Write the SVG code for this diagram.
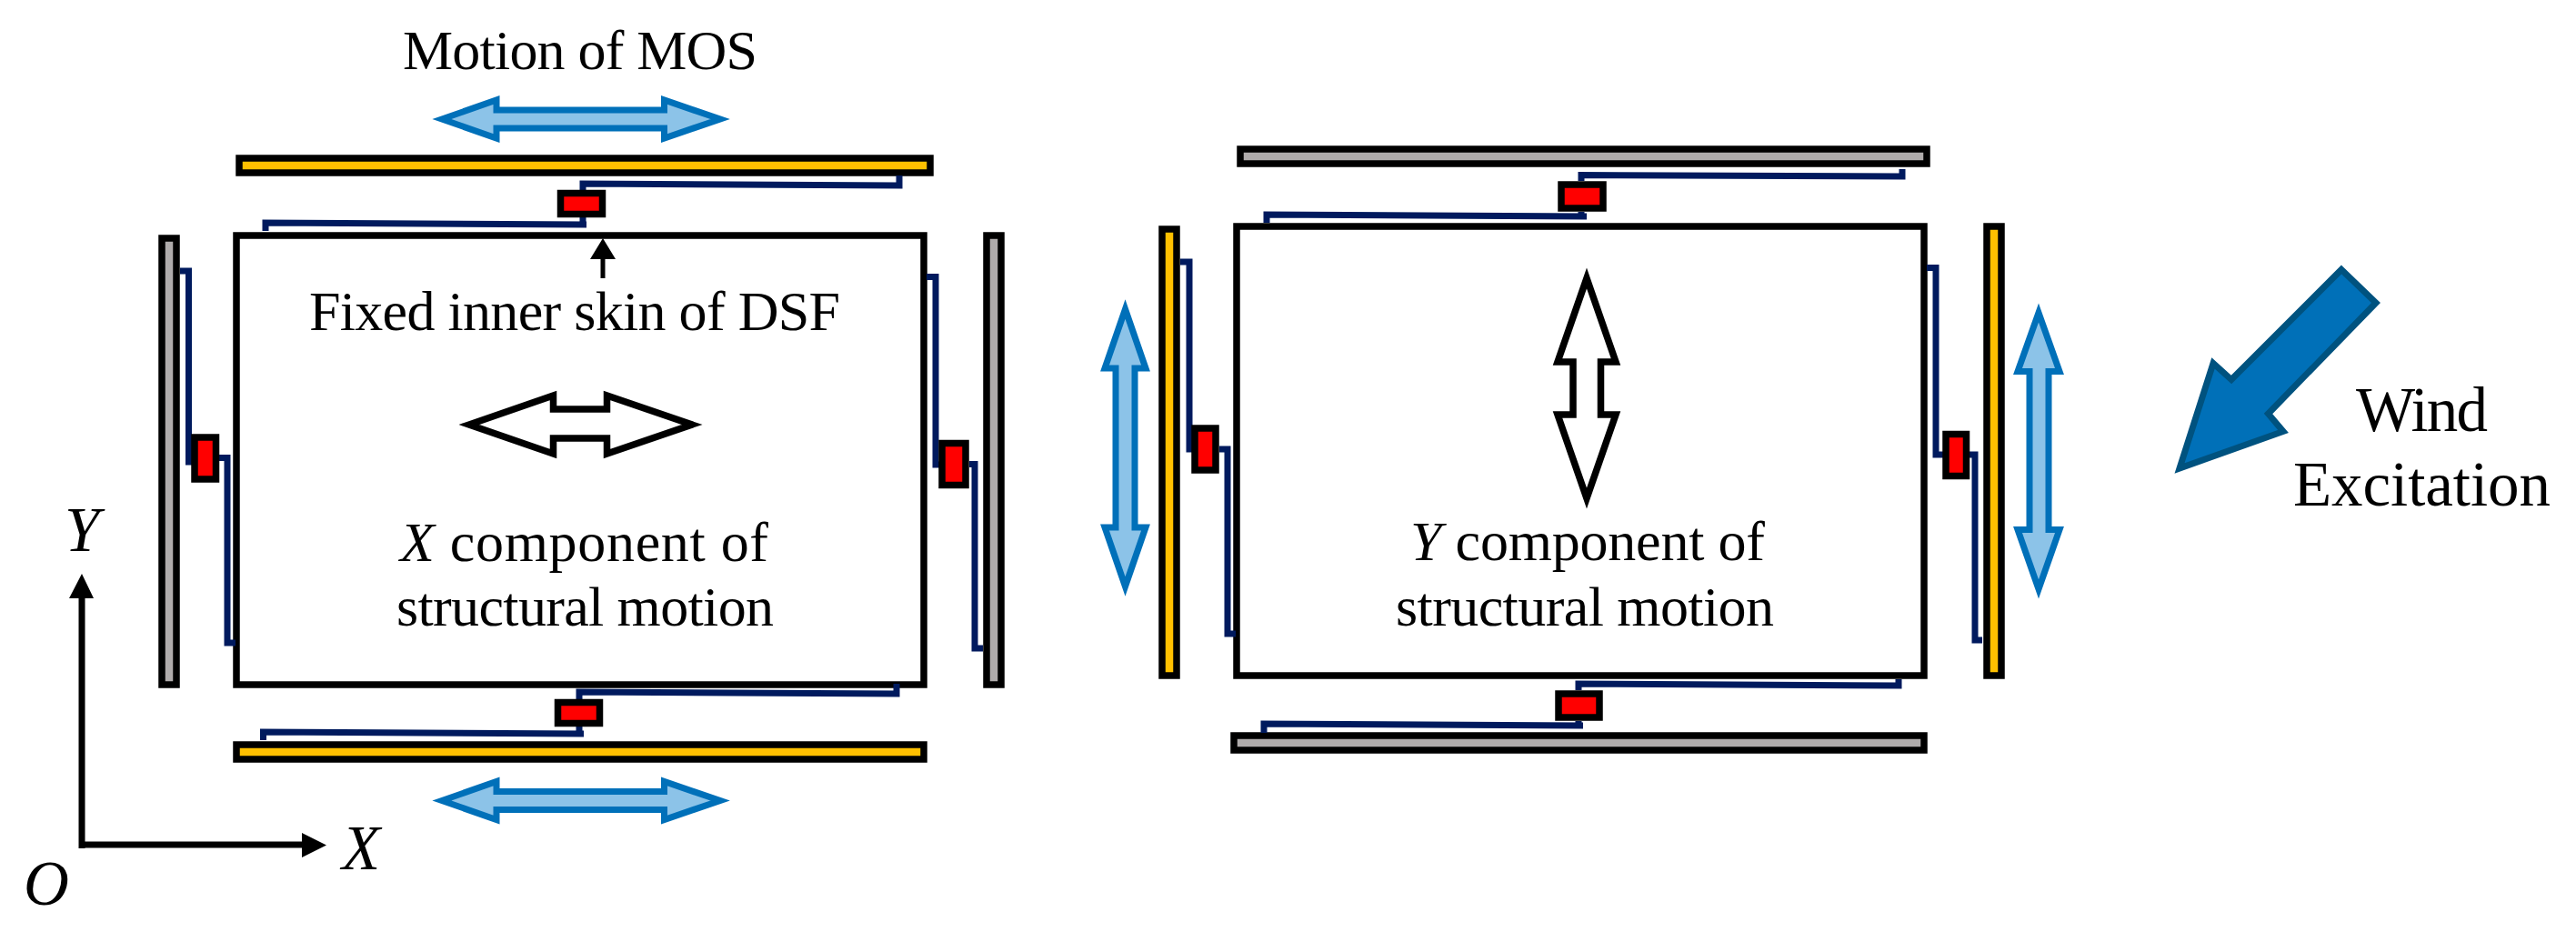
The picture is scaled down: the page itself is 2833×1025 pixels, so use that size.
<svg xmlns="http://www.w3.org/2000/svg" xmlns:xlink="http://www.w3.org/1999/xlink" width="2833" height="1025" viewBox="0 0 2833 1025">
<style>
text{font-family:"Liberation Serif","Times New Roman",serif;fill:#000}
.t62{font-size:62px}.t69{font-size:69px}
.i{font-style:italic}
.box{fill:#fff;stroke:#000;stroke-width:7.5}
.gold{fill:#FFC000;stroke:#000;stroke-width:7.5}
.gray{fill:#AFABAB;stroke:#000;stroke-width:7.5}
.damper{fill:#F00;stroke:#000;stroke-width:7.5}
.wire{fill:none;stroke:#001A5E;stroke-width:7}
.blue{fill:#8CC3E8;stroke:#0070B9;stroke-width:7;stroke-miterlimit:10}
.hollow{fill:#fff;stroke:#000;stroke-width:7.5;stroke-miterlimit:10}
.axis{fill:none;stroke:#000;stroke-width:7}
</style>
<defs>
<path id="motionH" class="blue" d="M486,131 546,110 546,121 730.5,121 730.5,110 792,131 730.5,152 730.5,141 546,141 546,152Z"/>
</defs>
<rect width="2833" height="1025" fill="#fff"/>

<g id="left-frame">
<rect id="left-inner-skin" class="box" x="260" y="259" width="756" height="494"/>
<rect id="left-bar-top" class="gold" x="263" y="174" width="760" height="16"/>
<rect id="left-bar-bottom" class="gold" x="260" y="819" width="756" height="16"/>
<rect id="left-bar-west" class="gray" x="178" y="262" width="16" height="491"/>
<rect id="left-bar-east" class="gray" x="1085" y="259" width="16" height="494"/>
</g>
<g id="right-frame">
<rect id="right-inner-skin" class="box" x="1360" y="249" width="756" height="494"/>
<rect id="right-bar-top" class="gray" x="1364" y="164" width="755" height="16"/>
<rect id="right-bar-bottom" class="gray" x="1357" y="809" width="759" height="16"/>
<rect id="right-bar-west" class="gold" x="1278" y="252" width="16" height="491"/>
<rect id="right-bar-east" class="gold" x="2185" y="249" width="16" height="494"/>
</g>

<g id="connectors">
<path class="wire" d="M641,209V202L989,204V193"/>
<path class="wire" d="M641,239V247M645,247L292,245V254"/>
<path class="wire" d="M198,298H207.500V508H213"/>
<path class="wire" d="M241,503.500H250V707H259"/>
<path class="wire" d="M1019,304.500H1029V511H1034"/>
<path class="wire" d="M1066,510.500H1072V713H1081"/>
<path class="wire" d="M986,752V763L637,761V769"/>
<path class="wire" d="M637,799V807M642,807L289.500,805V814"/>
<path class="wire" d="M1739,199V192.500L2092,194V186"/>
<path class="wire" d="M1739,233V238M1745,238L1393,236V245"/>
<path class="wire" d="M1298,288H1308V494H1312"/>
<path class="wire" d="M1341,494H1350V697H1359"/>
<path class="wire" d="M2119,294.500H2129V500H2138"/>
<path class="wire" d="M2166,500H2172V704H2180"/>
<path class="wire" d="M2088,747V754L1736,752V759"/>
<path class="wire" d="M1736,793V798M1741,798L1390,796V806"/>
</g>

<g id="dampers">
<rect id="damper-l-top" class="damper" x="616.500" y="212.500" width="46" height="23"/>
<rect id="damper-l-west" class="damper" x="214" y="481" width="23.500" height="46"/>
<rect id="damper-l-east" class="damper" x="1036" y="487.500" width="26" height="46"/>
<rect id="damper-l-bottom" class="damper" x="613.500" y="772.500" width="46" height="23"/>
<rect id="damper-r-top" class="damper" x="1717" y="203" width="46" height="26"/>
<rect id="damper-r-west" class="damper" x="1314" y="471" width="23" height="46"/>
<rect id="damper-r-east" class="damper" x="2140" y="477.500" width="22.500" height="46"/>
<rect id="damper-r-bottom" class="damper" x="1714" y="763" width="45" height="26"/>
</g>

<g id="motion-arrows">
<use xlink:href="#motionH" href="#motionH"/>
<use xlink:href="#motionH" href="#motionH" y="749.500"/>
<path class="blue" d="M1237.500,340 1260,405 1248,405 1248,580 1260,580 1237.500,645 1215,580 1227,580 1227,405 1215,405Z"/>
<path class="blue" d="M2242,344 2265,408.500 2253,408.500 2253,582.500 2265,582.500 2242,648 2219,582.500 2232,582.500 2232,408.500 2219,408.500Z"/>
<path class="hollow" d="M516,467 608.500,435 608.500,450 667.500,450 667.500,435 761,467 667.500,499 667.500,482 608.500,482 608.500,499Z"/>
<path class="hollow" d="M1745,306 1777,398 1760.500,398 1760.500,456 1777,456 1745,548 1713,456 1730,456 1730,398 1713,398Z"/>
<path id="wind-arrow" d="M2575,296.500 2613,333 2494.500,455 2511,474.500 2397,515 2434,399.500 2454,417.500Z" fill="#0070B8" stroke="#00527F" stroke-width="7" stroke-miterlimit="10"/>
</g>

<g id="fixed-skin-pointer">
<path d="M663,262 677,285 665.500,285 665.500,306 660.500,306 660.500,285 649,285Z" fill="#000"/>
</g>

<g id="axes">
<path class="axis" d="M90,933V655M86.500,929H335"/>
<path d="M90,631 103,658 76,658Z M359,929.500 332,916 332,943Z" fill="#000"/>
<text class="t69 i" x="71" y="606">Y</text>
<text class="t69 i" x="376" y="956">X</text>
<text class="t69 i" x="26" y="995">O</text>
</g>

<g id="labels">
<text class="t62" x="443" y="76" textLength="390">Motion of MOS</text>
<text class="t62" x="340" y="363" textLength="584">Fixed inner skin of DSF</text>
<text class="t62" x="440" y="617" textLength="405"><tspan class="i">X</tspan> component of</text>
<text class="t62" x="436" y="688" textLength="415">structural motion</text>
<text class="t62" x="1551" y="616" textLength="390"><tspan class="i">Y</tspan> component of</text>
<text class="t62" x="1535" y="688" textLength="416">structural motion</text>
<text class="t69" x="2591" y="474" textLength="145">Wind</text>
<text class="t69" x="2522" y="556" textLength="283">Excitation</text>
</g>
</svg>
